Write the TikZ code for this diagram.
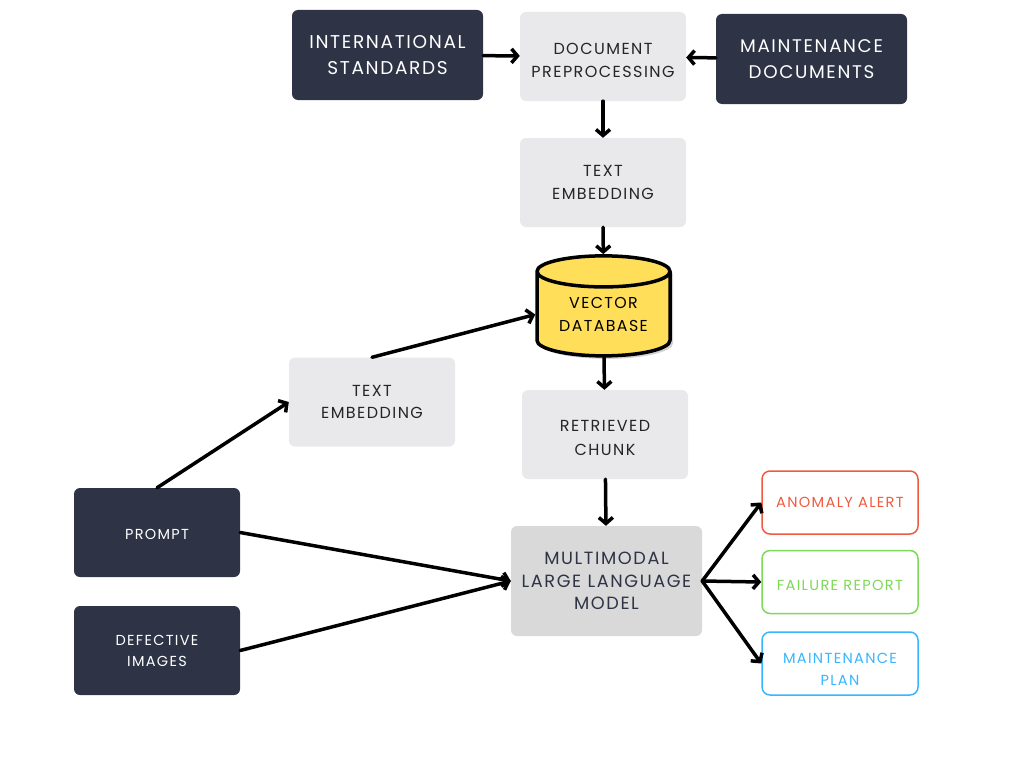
\documentclass[tikz,border=0pt]{standalone}
\usepackage{fontspec}
\setmainfont{Poppins}[LetterSpace=9]
\usetikzlibrary{arrows.meta, shapes.geometric, shadows}
\usetikzlibrary{positioning}

\definecolor{navy}{RGB}{46,52,70}
\definecolor{paper}{RGB}{233,233,235}
\definecolor{llmgray}{RGB}{217,217,217}
\definecolor{dbyellow}{RGB}{255,222,89}
\definecolor{alertred}{RGB}{240,90,63}
\definecolor{reportgreen}{RGB}{126,217,87}
\definecolor{planblue}{RGB}{56,182,255}

\begin{document}
\begin{tikzpicture}[line cap=round,line join=round,>={Straight Barb[length=6pt,width=14pt]},x=1pt,y=-1pt]
  \tikzset{
  % dark boxes for the inputs
  dark box/.style={fill=navy, text=white, rounded corners=6pt, align=center, inner sep=0pt},
  % light gray boxes for the processing steps
  light box/.style={fill=paper, text=black!85, rounded corners=6pt, align=center, inner sep=0pt,
    minimum width=166pt, minimum height=89pt, font=\fontsize{16}{22.5}\selectfont},
  % outlined boxes for the outputs
  out box/.style={draw=#1, text=#1, fill=white, line width=1.5pt, rounded corners=8pt, align=center,
    inner sep=0pt, minimum width=156pt, minimum height=63pt, font=\fontsize{14.6}{22}\selectfont},
  % text set a little below the middle of its box
  low text/.style={align=center, inner sep=0pt, yshift=-#1},
  % thick arrows
  conn/.style={->, line width=3.5pt},
}
\useasboundingbox (0,0) rectangle (1024,768);

\node[dark box, minimum width=191pt, minimum height=90pt, font=\fontsize{18.5}{26}\selectfont] (IS) at (387.5,55) {INTERNATIONAL\\STANDARDS};
\node[light box, label={[low text=4pt, text=black!85, font=\fontsize{16}{22.5}\selectfont]center:DOCUMENT\\PREPROCESSING}] (DP) at (603,56.5) {};
\node[dark box, minimum width=191pt, minimum height=90pt, font=\fontsize{18.3}{26}\selectfont] (MD) at (811.5,59) {MAINTENANCE\\DOCUMENTS};
\node[light box] (TE) at (603,182.5) {TEXT\\EMBEDDING};
\node[cylinder, shape border rotate=90, aspect=0.35, draw=black, line width=3.5pt, fill=dbyellow,
  minimum width=133pt, minimum height=100pt, inner sep=0pt, align=center,
  drop shadow={shadow xshift=3pt, shadow yshift=-3pt, opacity=0.35},
  font=\fontsize{15.8}{22.5}\selectfont] (DB) at (603.5,314.5) {VECTOR\\DATABASE};
\node[light box] (TQ) at (372,402) {TEXT\\EMBEDDING};
\node[light box, label={[low text=3pt, text=black!85, font=\fontsize{16}{24}\selectfont]center:RETRIEVED\\CHUNK}] (RC) at (605,434.5) {};
\node[dark box, minimum width=166pt, minimum height=89pt, font=\fontsize{14.5}{21}\selectfont] (P) at (157,532.5) {\raisebox{-2pt}[\height][\depth]{PROMPT}};
\node[dark box, minimum width=166pt, minimum height=89pt, font=\fontsize{14.5}{21}\selectfont] (DI) at (157,650.5) {DEFECTIVE\\IMAGES};
\node[light box, fill=llmgray, text=navy, minimum width=191pt, minimum height=110pt,
  font=\fontsize{17.7}{22.5}\selectfont] (LLM) at (606.5,581) {MULTIMODAL\\LARGE LANGUAGE\\MODEL};
\node[out box=alertred] (AA) at (840,502.5) {ANOMALY ALERT};
\node[out box=reportgreen] (FR) at (840,582) {\raisebox{-3pt}[\height][\depth]{FAILURE REPORT}};
\node[out box=planblue, label={[low text=6pt, text=planblue, font=\fontsize{14.6}{22}\selectfont]center:MAINTENANCE\\PLAN}] (MP) at (840,663.5) {};

\draw[conn] (IS) -- (DP);
\draw[conn] (MD) -- (DP);
\draw[conn] (DP) -- (TE);
\draw[conn] (TE) -- (DB);
\draw[conn] (TQ.north) -- (DB.west);
\draw[conn] (DB) -- (RC);
\draw[conn] (RC) -- (LLM);
\draw[conn] (P.north) -- (TQ.west);
\draw[conn] (P.east) -- (LLM.west);
\draw[conn] (DI.east) -- (LLM.west);
\draw[conn] (LLM.east) -- (AA.west);
\draw[conn] (LLM.east) -- (FR.west);
\draw[conn] (LLM.east) -- (MP.west);
\end{tikzpicture}
\end{document}
